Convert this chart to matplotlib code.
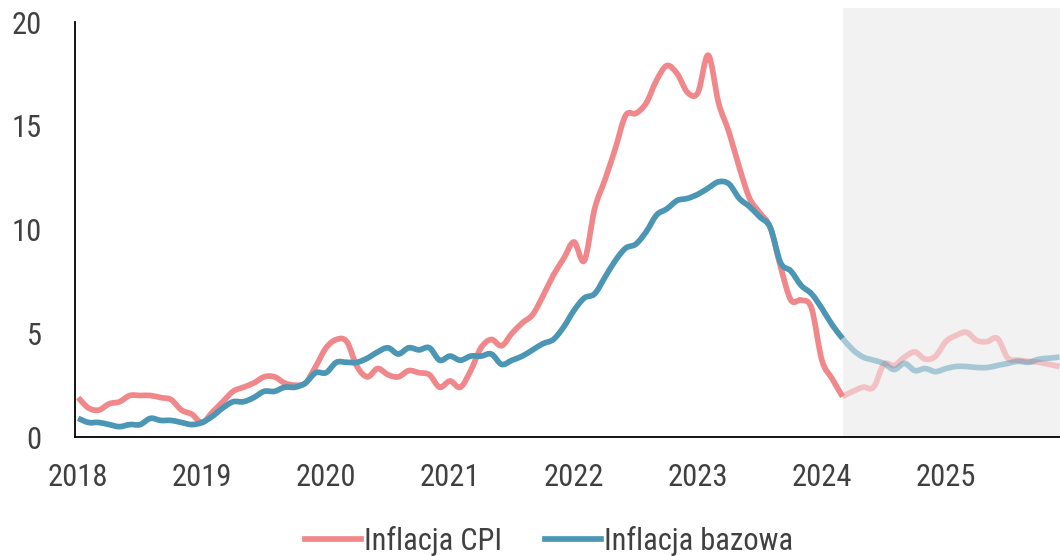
import numpy as np
import matplotlib.pyplot as plt
from matplotlib import font_manager
from matplotlib.path import Path
from matplotlib.patches import PathPatch, Rectangle

# czcionka zbliżona do Calibri (wąska), jeśli jest dostępna
installed = {f.name for f in font_manager.fontManager.ttflist}
for name in ['Liberation Sans Narrow', 'Roboto Condensed', 'Open Sans Condensed', 'Roboto', 'Lato']:
    if name in installed:
        font = name
        break
else:
    font = 'DejaVu Sans'
plt.rcParams['font.family'] = [font, 'DejaVu Sans']

# miesięczne dane r/r, styczeń 2018 - grudzień 2025
years = ['2018', '2019', '2020', '2021', '2022', '2023', '2024', '2025']

cpi = [1.9, 1.4, 1.3, 1.6, 1.7, 2.0, 2.0, 2.0, 1.9, 1.8, 1.3, 1.1,
       0.7, 1.2, 1.7, 2.2, 2.4, 2.6, 2.9, 2.9, 2.6, 2.5, 2.6, 3.4,
       4.3, 4.7, 4.6, 3.4, 2.9, 3.3, 3.0, 2.9, 3.2, 3.1, 3.0, 2.4,
       2.7, 2.4, 3.2, 4.3, 4.7, 4.4, 5.0, 5.5, 5.9, 6.8, 7.8, 8.6,
       9.4, 8.5, 11.0, 12.4, 13.9, 15.5, 15.6, 16.1, 17.2, 17.9, 17.5, 16.6,
       16.6, 18.4, 16.1, 14.7, 13.0, 11.5, 10.8, 10.1, 8.2, 6.6, 6.6, 6.2,
       3.7, 2.8, 1.95, 2.2, 2.4, 2.4, 3.5, 3.45, 3.85, 4.1, 3.75, 3.9,
       4.6, 4.9, 5.05, 4.65, 4.6, 4.75, 3.8, 3.7, 3.65, 3.6, 3.5, 3.4]

bazowa = [0.9, 0.7, 0.7, 0.6, 0.5, 0.6, 0.6, 0.9, 0.8, 0.8, 0.7, 0.6,
          0.7, 1.0, 1.4, 1.7, 1.7, 1.9, 2.2, 2.2, 2.4, 2.4, 2.6, 3.1,
          3.1, 3.6, 3.6, 3.6, 3.8, 4.1, 4.3, 4.0, 4.3, 4.2, 4.3, 3.7,
          3.9, 3.7, 3.9, 3.9, 4.0, 3.5, 3.7, 3.9, 4.2, 4.5, 4.7, 5.3,
          6.1, 6.7, 6.9, 7.7, 8.5, 9.1, 9.3, 9.9, 10.7, 11.0, 11.4, 11.5,
          11.7, 12.0, 12.3, 12.2, 11.5, 11.1, 10.6, 10.1, 8.4, 8.0, 7.3, 6.9,
          6.2, 5.4, 4.75, 4.2, 3.85, 3.7, 3.55, 3.25, 3.55, 3.2, 3.3, 3.15,
          3.3, 3.4, 3.4, 3.35, 3.35, 3.45, 3.55, 3.65, 3.6, 3.75, 3.8, 3.85]

prognoza_od = 74  # marzec 2024 - początek prognozy

c_cpi = '#F0878A'
c_baz = '#4A96B4'
lw = 4.1


def smooth_path(x, y):
    # wygładzona linia jak w Excelu (Catmull-Rom -> Bezier)
    x = np.asarray(x, float)
    y = np.asarray(y, float)
    verts = [(x[0], y[0])]
    codes = [Path.MOVETO]
    n = len(x)
    for i in range(n - 1):
        x0, y0 = (x[i - 1], y[i - 1]) if i > 0 else (x[i], y[i])
        x3, y3 = (x[i + 2], y[i + 2]) if i + 2 < n else (x[i + 1], y[i + 1])
        c1 = (x[i] + (x[i + 1] - x0) / 6, y[i] + (y[i + 1] - y0) / 6)
        c2 = (x[i + 1] - (x3 - x[i]) / 6, y[i + 1] - (y3 - y[i]) / 6)
        verts += [c1, c2, (x[i + 1], y[i + 1])]
        codes += [Path.CURVE4] * 3
    return Path(verts, codes)


fig, ax = plt.subplots(figsize=(10.6, 5.56), dpi=100)
fig.subplots_adjust(left=0.0708, right=1.0, bottom=0.214, top=0.9865)

months = np.arange(len(cpi))
ax.set_xlim(-0.3, len(cpi) - 0.95)
ax.set_ylim(0, 20.7)

ax.add_patch(Rectangle((prognoza_od, 0), len(cpi), 20.7, facecolor='#F2F2F2',
                       edgecolor='none', zorder=0))

for data, col in [(cpi, c_cpi), (bazowa, c_baz)]:
    hist = smooth_path(months[:prognoza_od + 1], data[:prognoza_od + 1])
    prog = smooth_path(months[prognoza_od:], data[prognoza_od:])
    ax.add_patch(PathPatch(hist, facecolor='none', edgecolor=col, lw=lw,
                           capstyle='butt', joinstyle='round', zorder=3))
    ax.add_patch(PathPatch(prog, facecolor='none', edgecolor=col, lw=lw,
                           alpha=0.45, capstyle='butt', joinstyle='round', zorder=2))

# wpisy legendy
ax.plot([], [], color=c_cpi, lw=lw, label='Inflacja CPI')
ax.plot([], [], color=c_baz, lw=lw, label='Inflacja bazowa')

ax.set_xticks(np.arange(0, 96, 12))
ax.set_xticklabels(years)
ax.set_yticks([0, 5, 10, 15, 20])
ax.tick_params(axis='both', length=0, labelsize=22, labelcolor='#404040')
ax.tick_params(axis='x', pad=19)
ax.tick_params(axis='y', pad=24)

for s in ['top', 'right']:
    ax.spines[s].set_visible(False)
ax.spines['left'].set_bounds(0, 20)
ax.spines['left'].set_linewidth(1.3)
ax.spines['bottom'].set_linewidth(1.3)
ax.spines['left'].set_zorder(5)
ax.spines['bottom'].set_zorder(5)

leg = fig.legend(loc='center', bbox_to_anchor=(0.518, 0.027), ncol=2, frameon=False,
                 fontsize=22, handlelength=1.85, handletextpad=0.1, columnspacing=1.4)
for t in leg.get_texts():
    t.set_color('#404040')

fig.savefig('out.png', dpi=100)
